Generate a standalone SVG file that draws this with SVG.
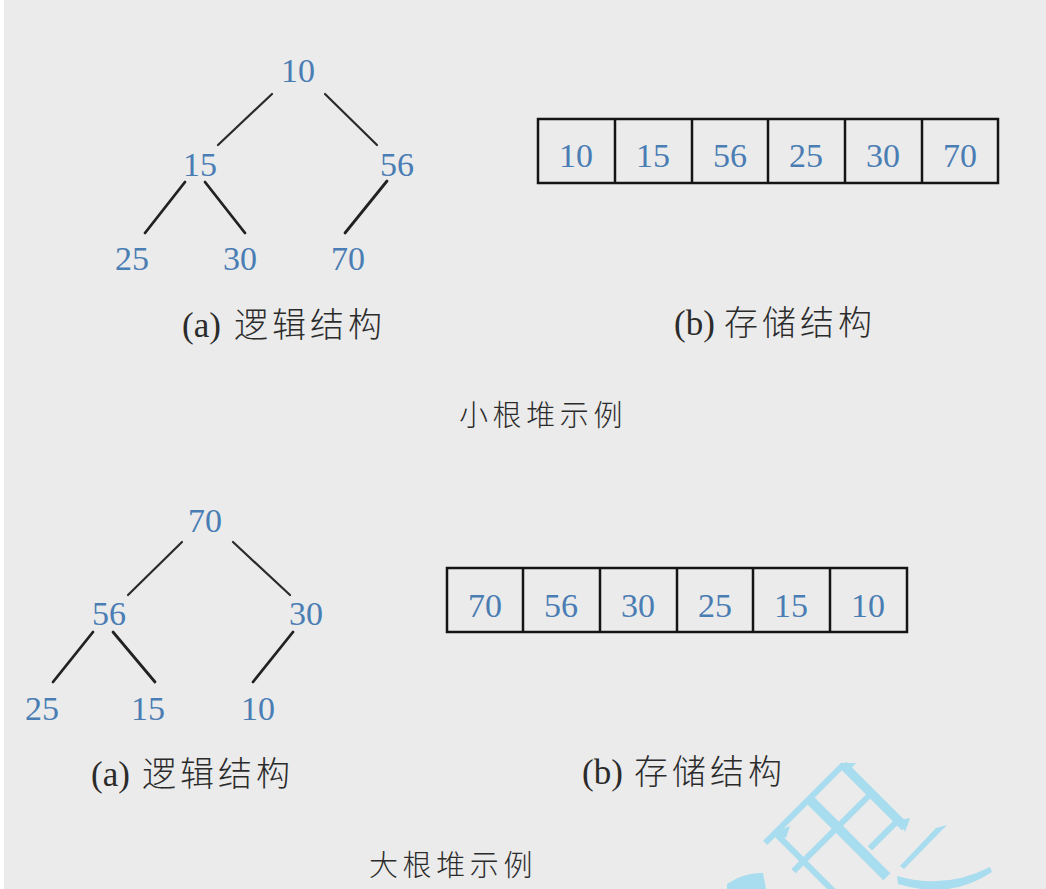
<svg xmlns="http://www.w3.org/2000/svg" width="1046" height="889" viewBox="0 0 1046 889">
<style>
.num{font-family:"Liberation Serif","DejaVu Serif",serif;font-size:34px;fill:#4a7db3;text-anchor:middle}
.lbl{fill:#2b2b2b}
.par{font-family:"Liberation Serif","DejaVu Serif",serif;font-size:35px}
.cjk{font-family:"Noto Sans CJK SC",sans-serif;font-size:34px;font-weight:300;letter-spacing:4px}
.cap{font-family:"Noto Sans CJK SC",sans-serif;font-size:29px;fill:#2b2b2b;font-weight:300;letter-spacing:4.6px}
.edge{stroke:#2a2a2a;stroke-width:2.2;fill:none;stroke-linecap:round}
.edge2{stroke:#222;stroke-width:2.8;fill:none;stroke-linecap:round}
.cell{fill:none;stroke:#141414;stroke-width:2.5}
.wm{stroke:#a8dcef;fill:none;stroke-linecap:butt}
</style>
<rect width="1046" height="889" fill="#ebebeb"/>
<rect width="4" height="889" fill="#ffffff"/>

<g id="connectors">
<line class="edge" x1="272" y1="94" x2="218" y2="145"/>
<line class="edge" x1="325" y1="94" x2="377" y2="145"/>
<line class="edge2" x1="185" y1="182" x2="145" y2="233"/>
<line class="edge2" x1="205" y1="182" x2="245" y2="233"/>
<line class="edge2" x1="387" y1="181" x2="345" y2="233"/>
<line class="edge" x1="182" y1="542" x2="128" y2="595"/>
<line class="edge" x1="233" y1="542" x2="290" y2="595"/>
<line class="edge2" x1="93" y1="632" x2="53" y2="682"/>
<line class="edge2" x1="113" y1="632" x2="155" y2="682"/>
<line class="edge2" x1="293" y1="632" x2="253" y2="682"/>
</g>

<g id="min-tree">
<g id="t1-10"><text class="num" x="298" y="82">10</text></g>
<g id="t1-15"><text class="num" x="200" y="176">15</text></g>
<g id="t1-56"><text class="num" x="397" y="176">56</text></g>
<g id="t1-25"><text class="num" x="132" y="270">25</text></g>
<g id="t1-30"><text class="num" x="240" y="270">30</text></g>
<g id="t1-70"><text class="num" x="348" y="270">70</text></g>
</g>

<g id="min-array">
<rect class="cell" x="538" y="119" width="460" height="64"/>
<line class="cell" x1="615" y1="119" x2="615" y2="183" stroke-width="3.2"/>
<line class="cell" x1="692" y1="119" x2="692" y2="183" stroke-width="3.2"/>
<line class="cell" x1="768" y1="119" x2="768" y2="183"/>
<line class="cell" x1="845" y1="119" x2="845" y2="183"/>
<line class="cell" x1="922" y1="119" x2="922" y2="183"/>
<text class="num" x="576" y="167">10</text>
<text class="num" x="653" y="167">15</text>
<text class="num" x="730" y="167">56</text>
<text class="num" x="806" y="167">25</text>
<text class="num" x="883" y="167">30</text>
<text class="num" x="960" y="167">70</text>
</g>

<g id="min-labels">
<text class="lbl" y="337"><tspan class="par" x="182">(a)</tspan><tspan class="cjk" x="234">逻辑结构</tspan></text>
<text class="lbl" y="335"><tspan class="par" x="674">(b)</tspan><tspan class="cjk" x="724">存储结构</tspan></text>
<text class="cap" x="459" y="426">小根堆示例</text>
</g>

<g id="max-tree">
<g id="t2-70"><text class="num" x="205" y="532">70</text></g>
<g id="t2-56"><text class="num" x="109" y="625">56</text></g>
<g id="t2-30"><text class="num" x="306" y="625">30</text></g>
<g id="t2-25"><text class="num" x="42" y="720">25</text></g>
<g id="t2-15"><text class="num" x="148" y="720">15</text></g>
<g id="t2-10"><text class="num" x="258" y="720">10</text></g>
</g>

<g id="max-array">
<rect class="cell" x="447" y="568" width="460" height="64"/>
<line class="cell" x1="523" y1="568" x2="523" y2="632" stroke-width="3.2"/>
<line class="cell" x1="600" y1="568" x2="600" y2="632" stroke-width="3.2"/>
<line class="cell" x1="677" y1="568" x2="677" y2="632"/>
<line class="cell" x1="753" y1="568" x2="753" y2="632"/>
<line class="cell" x1="830" y1="568" x2="830" y2="632"/>
<text class="num" x="485" y="617">70</text>
<text class="num" x="561" y="617">56</text>
<text class="num" x="638" y="617">30</text>
<text class="num" x="715" y="617">25</text>
<text class="num" x="791" y="617">15</text>
<text class="num" x="868" y="617">10</text>
</g>

<g id="max-labels">
<text class="lbl" y="786"><tspan class="par" x="91">(a)</tspan><tspan class="cjk" x="142">逻辑结构</tspan></text>
<text class="lbl" y="784"><tspan class="par" x="582">(b)</tspan><tspan class="cjk" x="634">存储结构</tspan></text>
<text class="cap" x="369" y="876">大根堆示例</text>
</g>

<g id="watermark">
<g transform="translate(843,765) rotate(45)">
<line class="wm" x1="0" y1="0" x2="88" y2="0" stroke-width="9"/>
<line class="wm" x1="0" y1="48" x2="110" y2="48" stroke-width="10"/>
<line class="wm" x1="0" y1="96" x2="110" y2="96" stroke-width="6"/>
<line class="wm" x1="0" y1="0" x2="0" y2="110" stroke-width="6"/>
<line class="wm" x1="40" y1="0" x2="40" y2="110" stroke-width="6"/>
<line class="wm" x1="78" y1="0" x2="78" y2="40" stroke-width="6"/>
</g>
<polygon points="840,763 856,763 848,772" fill="#a8dcef"/>
<polygon points="772,833 790,826 786,838" fill="#a8dcef"/>
<polygon points="900,820 910,818 905,832" fill="#a8dcef"/>
<path d="M947,825 L936,828 L900,866 L904,869 L940,832 Z" fill="#a8dcef"/>
<path d="M897,876 Q945,890 990,867 L992,872 Q950,900 898,884 Z" fill="#a8dcef"/>
<path d="M727,884 Q745,872 763,873 L766,889 L727,889 Z" fill="#a8dcef"/>
</g>
</svg>
